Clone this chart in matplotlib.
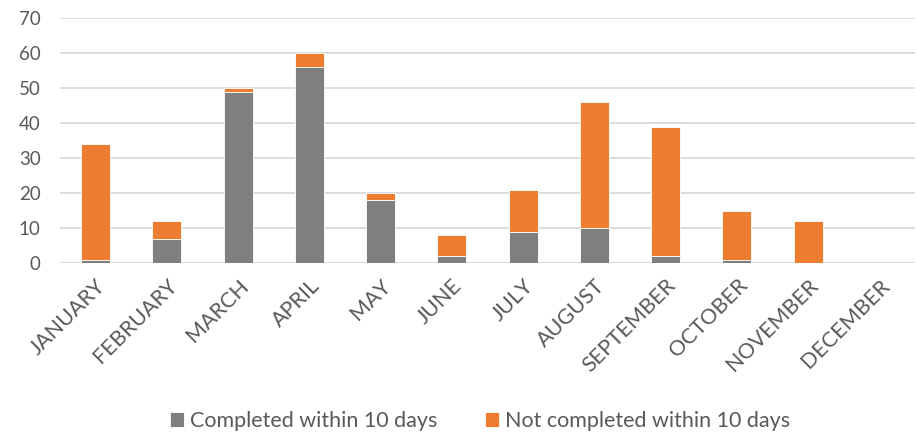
import matplotlib
matplotlib.use("Agg")
import matplotlib.pyplot as plt
import numpy as np

plt.rcParams["font.family"] = ["Lato", "DejaVu Sans"]

months = ["JANUARY", "FEBRUARY", "MARCH", "APRIL", "MAY", "JUNE", "JULY",
          "AUGUST", "SEPTEMBER", "OCTOBER", "NOVEMBER", "DECEMBER"]
completed = [1, 7, 49, 56, 18, 2, 9, 10, 2, 1, 0, 0]
not_completed = [33, 5, 1, 4, 2, 6, 12, 36, 37, 14, 12, 0]
y_ticks = [0, 10, 20, 30, 40, 50, 60, 70]

GREY = "#7f7f7f"
ORANGE = "#ed7d31"
TEXT = "#595959"
GRID = "#d9d9d9"

fig = plt.figure(figsize=(9.16, 4.33), dpi=100)
ax = fig.add_axes([60 / 916, (433 - 263) / 433, 855 / 916, 245 / 433])

x = np.arange(len(months))
ax.bar(x, completed, width=0.41, color=GREY, edgecolor="white", linewidth=0.6,
       label="Completed within 10 days", zorder=3)
ax.bar(x, not_completed, width=0.41, bottom=completed, color=ORANGE,
       edgecolor="white", linewidth=0.6, label="Not completed within 10 days", zorder=3)

ax.set_xlim(-0.5, len(months) - 0.5)
ax.set_ylim(0, 70)
ax.set_yticks(y_ticks)
ax.yaxis.grid(True, color=GRID, lw=1.3, zorder=0)
for s in ("top", "right", "left", "bottom"):
    ax.spines[s].set_visible(False)
ax.axhline(0, color=GRID, lw=1.3, zorder=1)
ax.tick_params(axis="y", length=0, pad=14, labelsize=13.5, labelcolor=TEXT)
ax.tick_params(axis="x", length=0, pad=9, labelsize=15.5, labelcolor=TEXT)
ax.set_xticks(x)
ax.set_xticklabels(months, rotation=45, ha="right", rotation_mode="anchor")

leg = fig.legend(loc="center", bbox_to_anchor=(480 / 916, 12 / 433), ncol=2, frameon=False,
                 fontsize=15.5, handlelength=0.65, handleheight=0.65,
                 handletextpad=0.3, columnspacing=2.2)
for t in leg.get_texts():
    t.set_color(TEXT)

fig.savefig("out.png", dpi=100)
